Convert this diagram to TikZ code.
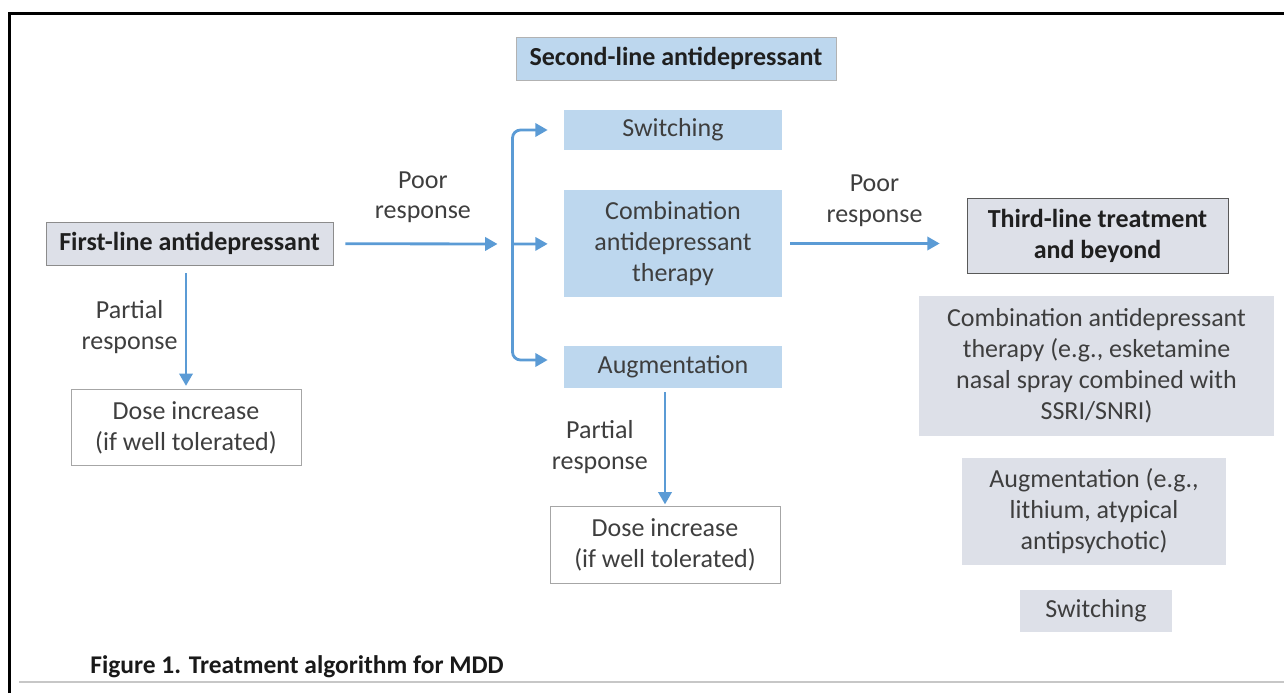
\documentclass[tikz,border=0pt]{standalone}
\usepackage{fontspec}
\setmainfont{Carlito}
\usepackage{tikz}
\usetikzlibrary{positioning}
\usetikzlibrary{arrows.meta}
\definecolor{flowblue}{RGB}{91,155,213}
\definecolor{paleblue}{RGB}{189,215,238}
\definecolor{palegray}{RGB}{221,224,232}
\definecolor{txtgray}{RGB}{62,62,62}
\tikzstyle{base}=[align=center, inner sep=2pt, text=txtgray, font=\fontsize{14.8}{17.6}\selectfont]
\tikzstyle{bold}=[font=\fontsize{14.8}{17.6}\selectfont\bfseries, text=black!88]
\tikzstyle{bluebox}=[base, fill=paleblue, minimum width=4.36cm]
\tikzstyle{graybox}=[base, fill=palegray]
\tikzstyle{dosebox}=[base, draw=black!35, fill=white, minimum width=4.6cm, minimum height=1.53cm]
\tikzstyle{edge}=[draw, flowblue, line width=1.6pt, -{Triangle[length=7pt,width=7.5pt]}]
\tikzstyle{weight}=[base]

\begin{document}
\begin{tikzpicture}[x=0.02cm, y=-0.02cm]
    \useasboundingbox (0,0) rectangle (1284,693);
    % frame and rule under the caption
    \draw[line width=0.06cm] (9.5,693) -- (9.5,13.5) -- (1284,13.5);
    \draw[black!22, line width=0.04cm] (19,682) -- (1284,682);

    % First the boxes
    \node[graybox, bold, draw=black!45, minimum width=5.74cm, minimum height=0.86cm] (first) at (189.5,243.5) {First-line antidepressant};
    \node[dosebox] (dose1) at (186,427.5) {Dose increase\\(if well tolerated)};

    \node[bluebox, bold, draw=black!30, minimum width=6.4cm, minimum height=0.86cm] (second) at (676,58.5) {Second-line antidepressant};
    \foreach \pos/\name/\h/\txt in {{(673,130)/sw/0.8/Switching}, {(673,243.5)/comb/2.14/Combination\\antidepressant\\therapy}, {(673,367)/aug/0.84/Augmentation}}
        \node[bluebox, minimum height=\h cm] (\name) at \pos {\txt};
    \node[dosebox] (dose2) at (665,545) {Dose increase\\(if well tolerated)};

    \node[graybox, bold, draw=black!65, minimum width=5.22cm, minimum height=1.5cm] (third) at (1097.5,235.5) {Third-line treatment\\and beyond};
    \node[graybox, minimum width=7.1cm, minimum height=2.8cm] (rcomb) at (1096.5,366) {Combination antidepressant\\therapy (e.g., esketamine\\nasal spray combined with\\SSRI/SNRI)};
    \node[graybox, minimum width=5.28cm, minimum height=2.14cm] (raug) at (1094,511.5) {Augmentation (e.g.,\\lithium, atypical\\antipsychotic)};
    \node[graybox, minimum width=3.04cm, minimum height=0.84cm] (rsw) at (1096,611) {Switching};

    \node[anchor=west, inner sep=0pt, font=\fontsize{14.5}{16}\selectfont\bfseries, text=black!90] (caption) at (90,667) {Figure 1. Treatment algorithm for MDD};

    % Then the arrows and their labels
    \coordinate (fork) at (512.5,244);
    \path[edge, shorten <=0.24cm, shorten >=0.3cm] (first) -- node[weight, above=9pt] {Poor\\response} (fork);
    \path[edge, rounded corners=0.16cm, shorten >=0.32cm] (fork) |- (sw);
    \path[edge, shorten >=0.32cm] (fork) -- (comb);
    \path[edge, rounded corners=0.16cm, shorten >=0.32cm] (fork) |- ([yshift=0.14cm]aug.west);

    \path[edge, shorten <=0.16cm, shorten >=0.06cm] (dose1.north |- first.south) -- node[weight, left=2pt] {Partial\\response} (dose1.north);
    \path[edge, shorten <=0.08cm, shorten >=0.04cm] (dose2.north |- aug.south) -- node[weight, left=7pt] {Partial\\response} (dose2.north);
    \path[edge, shorten <=0.16cm, shorten >=0.54cm] (comb.east) -- node[weight, above=7pt] {Poor\\response} (comb.east -| third.west);
\end{tikzpicture}
\end{document}
